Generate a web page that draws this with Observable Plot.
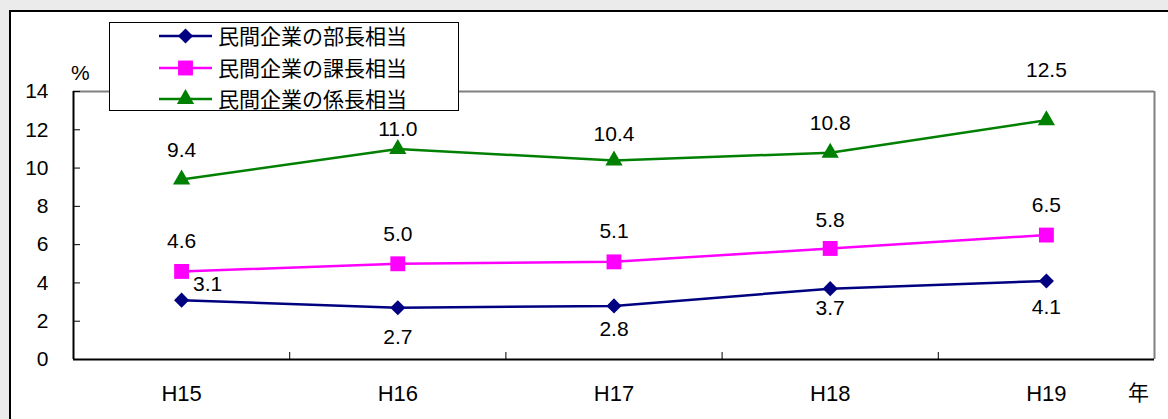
<!DOCTYPE html>
<html>
<head>
<meta charset="utf-8">
<script src="https://cdn.jsdelivr.net/npm/d3@7"></script>
<script src="https://cdn.jsdelivr.net/npm/@observablehq/plot@0.6"></script>
<style>
html, body { margin: 0; padding: 0; background: #ebebeb; width: 1168px; height: 419px; overflow: hidden; }
#panel { position: absolute; left: 9px; top: 10px; width: 1200px; height: 450px; background: #fff; border: 2px solid #000; box-sizing: border-box; }
#chart { position: absolute; left: 0; top: 0; }
#chart svg { background: transparent; overflow: visible; }
#legend { position: absolute; left: 109px; top: 22px; width: 350px; height: 89px; background: #fff; border: 1px solid #000; box-sizing: border-box; }
.row { position: absolute; left: 0; height: 31.5px; line-height: 31.5px; width: 100%; }
.row svg { position: absolute; left: 49px; top: 0; }
.row span { position: absolute; left: 108px; top: 0; font-family: "Noto Sans CJK JP", sans-serif; font-size: 21px; color: #000; white-space: nowrap; }
.unit { position: absolute; font-family: "Liberation Sans", Arial, sans-serif; font-size: 21px; color: #000; line-height: 1; }
.unitj { position: absolute; font-family: "Noto Sans CJK JP", sans-serif; font-size: 21px; color: #000; line-height: 1; }
</style>
</head>
<body>
<div id="panel"></div>
<div id="chart"></div>
<div id="legend"></div>
<div class="unit" style="left:71px;top:62px;">%</div>
<div class="unitj" style="left:1128px;top:381px;">年</div>
<script>
// ---- data ----
const years = ["H15", "H16", "H17", "H18", "H19"];
const seriesNames = ["民間企業の部長相当", "民間企業の課長相当", "民間企業の係長相当"];
const buchou = [3.1, 2.7, 2.8, 3.7, 4.1];
const kachou = [4.6, 5.0, 5.1, 5.8, 6.5];
const kakari = [9.4, 11.0, 10.4, 10.8, 12.5];
const yTicks = [0, 2, 4, 6, 8, 10, 12, 14];

// ---- styles / label placement (pixel nudges, not data) ----
const colors = ["#000080", "#FF00FF", "#008000"];
const symbols = ["diamond2", "square", "triangle"];
const radii = [6.8, 8.4, 6.4];
const labelDx = [[26, 0, 0, 0, 0], [0, 0, 0, 0, 0], [0, 0, 0, 0, 0]];
const labelDy = [[-16, 29, 23, 20, 26], [-30, -30, -31, -28, -30], [-29, -20, -26, -29, -50]];

const seriesValues = [buchou, kachou, kakari];
const rows = seriesValues.flatMap((vals, si) =>
  vals.map((v, i) => ({series: seriesNames[si], si, i, year: years[i], v})));
const bySeries = si => rows.filter(d => d.si === si);
const boundaries = years.slice(1).map((_, i) => i + 0.5);

const font = "'Liberation Sans', Arial, sans-serif";

const marks = [
  Plot.ruleY([14], {stroke: "#808080", strokeWidth: 2}),
  Plot.ruleX([years.length - 0.5], {stroke: "#808080", strokeWidth: 2}),
  Plot.ruleX([-0.5], {stroke: "#000", strokeWidth: 2}),
  Plot.ruleY([0], {stroke: "#000", strokeWidth: 2}),
  Plot.axisY({ticks: yTicks, tickSize: 0, tickPadding: 25, fontSize: 21, fill: "#000", label: null}),
  Plot.axisY({ticks: yTicks, tickSize: -7, tickFormat: () => "", stroke: "#000", label: null}),
  Plot.axisX({ticks: years.map((_, i) => i), tickFormat: i => years[i], tickSize: 0, tickPadding: 26, fontSize: 22, fill: "#000", label: null}),
  Plot.axisX({ticks: boundaries, tickSize: -7, tickFormat: () => "", stroke: "#000", label: null}),
  Plot.line(rows, {x: "i", y: "v", z: "series", stroke: "series", strokeWidth: 2.5})
];
seriesNames.forEach((name, si) => {
  marks.push(Plot.dot(bySeries(si), {x: "i", y: "v", symbol: () => symbols[si], fill: colors[si], r: radii[si], stroke: "none"}));
});
// value labels, one text mark per point so each can take its own nudge
rows.forEach(d => {
  marks.push(Plot.text([d], {x: "i", y: "v", text: r => r.v.toFixed(1),
    dx: labelDx[d.si][d.i], dy: labelDy[d.si][d.i], fontSize: 21, fill: "#000"}));
});

const chart = Plot.plot({
  width: 1168,
  height: 419,
  marginLeft: 73,
  marginRight: 14,
  marginTop: 91,
  marginBottom: 60,
  style: {fontFamily: font, fontSize: "21px", background: "transparent", color: "#000"},
  x: {type: "linear", domain: [-0.5, years.length - 0.5], axis: null},
  y: {domain: [0, 14], axis: null},
  color: {domain: seriesNames, range: colors},
  marks
});
document.getElementById("chart").appendChild(chart);

// ---- legend ----
const legend = document.getElementById("legend");
const symMap = {diamond2: d3.symbolDiamond2, square: d3.symbolSquare, triangle: d3.symbolTriangle};
seriesNames.forEach((name, si) => {
  const row = document.createElement("div");
  row.className = "row";
  row.style.top = (-2.75 + si * 31.5) + "px";
  const svg = d3.create("svg").attr("width", 56).attr("height", 32);
  svg.append("line").attr("x1", 0).attr("x2", 53).attr("y1", 16).attr("y2", 16)
    .attr("stroke", colors[si]).attr("stroke-width", 2.5);
  svg.append("path")
    .attr("d", d3.symbol(symMap[symbols[si]], Math.PI * radii[si] * radii[si])())
    .attr("transform", "translate(26.5,16)")
    .attr("fill", colors[si]);
  row.appendChild(svg.node());
  const span = document.createElement("span");
  span.textContent = name;
  row.appendChild(span);
  legend.appendChild(row);
});
</script>
</body>
</html>
